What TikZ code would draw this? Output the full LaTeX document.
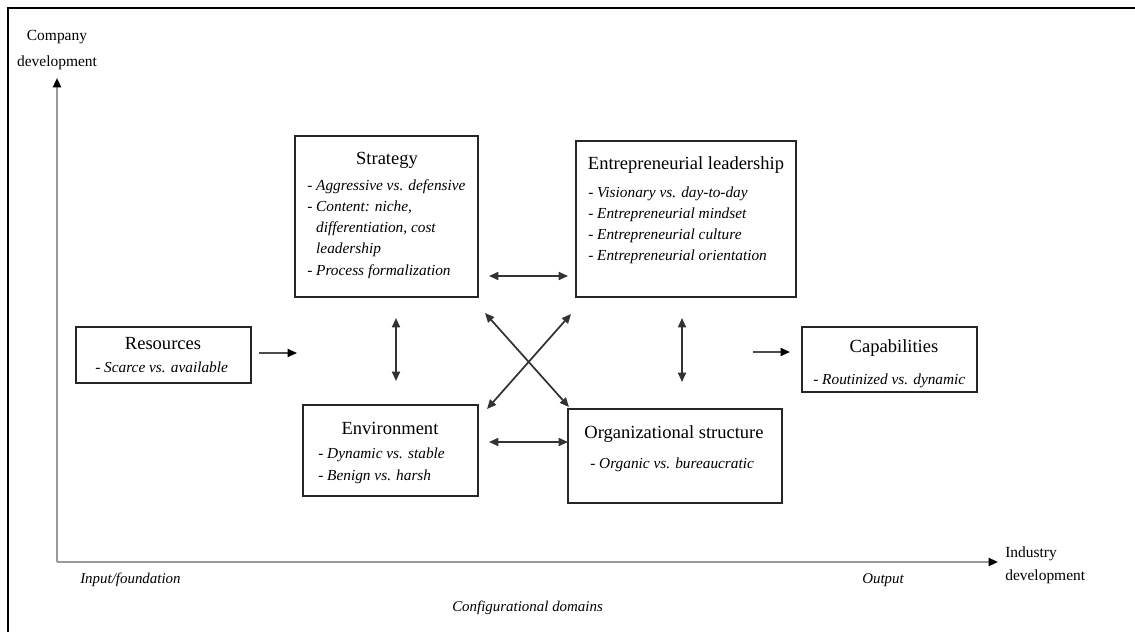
\documentclass[tikz,border=0pt]{standalone}
\usepackage{fontspec}
\setmainfont{Liberation Serif}
\usetikzlibrary{arrows.meta,fit}
\begin{document}
\begin{tikzpicture}[x=0.75pt,y=-0.75pt,
  box/.style={draw=black!85, line width=1.1pt, inner sep=0pt},
  ttl/.style={font=\fontsize{13.9}{16}\selectfont, anchor=base, inner sep=0pt},
  itm/.style={font=\fontsize{11.5}{14}\selectfont\itshape, anchor=base west, inner sep=0pt},
  axlab/.style={font=\fontsize{11.6}{14}\selectfont, inner sep=0pt},
  axit/.style={font=\fontsize{11.2}{14}\selectfont\itshape, anchor=base west, inner sep=0pt},
  link/.style={draw=black!80, line width=1.3pt, {Triangle[length=7pt,width=6pt]}-{Triangle[length=7pt,width=6pt]}},
  flow/.style={draw=black!70, line width=1.3pt, -{Triangle[length=7pt,width=6pt,color=black]}},
  axis/.style={draw=black!40, line width=1.5pt, -{Triangle[length=7pt,width=6pt,color=black]}}
]
\useasboundingbox (0,0) rectangle (1135,632);

% frame along the top and left edges
\draw[line width=2pt] (1135,8) -- (8,8) -- (8,632);

% axes
\coordinate (origin) at (57,562);
\coordinate (ytip) at (57,78);
\coordinate (xtip) at (998,562);
\draw[axis] (origin) -- (ytip);
\draw[axis] (origin) -- (xtip);
\node[axlab, anchor=base] (ylab1) at (57,40) {Company};
\node[axlab, anchor=base] (ylab2) at (57,66) {development};
\node[axlab, anchor=base west] (xlab1) at (1005,557) {Industry};
\node[axlab, anchor=base west] (xlab2) at (1005,580) {development};
\node[axit] (input) at (80,583) {Input/foundation};
\node[axit] (output) at (862,583) {Output};
\node[axit] (domains) at (452,611) {Configurational domains};

% boxes
\node[box, fit={(295,136) (478,297)}] (strategy) {};
\node[box, fit={(576,141) (796,297)}] (leader) {};
\node[box, fit={(76,327) (251,383)}] (resources) {};
\node[box, fit={(303,405) (478,496)}] (environment) {};
\node[box, fit={(568,409) (782,503)}] (structure) {};
\node[box, fit={(802,327) (977,392)}] (capabilities) {};

% titles
\node[ttl] (strategy-t) at (387,164) {Strategy};
\node[ttl] (leader-t) at (686,169) {Entrepreneurial leadership};
\node[ttl] (resources-t) at (163,349) {Resources};
\node[ttl] (environment-t) at (390,434) {Environment};
\node[ttl] (structure-t) at (674,438) {Organizational structure};
\node[ttl] (capabilities-t) at (894,352) {Capabilities};

% item lists
\foreach \t [count=\i] in {- Aggressive vs. defensive, {- Content: niche,},
    {\phantom{- }differentiation, cost}, \phantom{- }leadership, - Process formalization}
  \node[itm] (strategy-\i) at (307,{190+(\i-1)*21.3}) {\t};
\foreach \t [count=\i] in {- Visionary vs. day-to-day, - Entrepreneurial mindset,
    - Entrepreneurial culture, - Entrepreneurial orientation}
  \node[itm] (leader-\i) at (588,{197+(\i-1)*21.3}) {\t};
\node[itm] (resources-1) at (95,372) {- Scarce vs. available};
\foreach \t [count=\i] in {- Dynamic vs. stable, - Benign vs. harsh}
  \node[itm] (environment-\i) at (318,{458+(\i-1)*22}) {\t};
\node[itm] (structure-1) at (590,468) {- Organic vs. bureaucratic};
\node[itm] (capabilities-1) at (813,384) {- Routinized vs. dynamic};

% connector end points
\coordinate (ra) at (259,353);  \coordinate (rb) at (297,353);
\coordinate (ca) at (753,352);  \coordinate (cb) at (790,352);
\coordinate (sea) at (396,318); \coordinate (seb) at (396,381);
\coordinate (loa) at (682,318); \coordinate (lob) at (682,382);
\coordinate (sla) at (489,276); \coordinate (slb) at (568,276);
\coordinate (eoa) at (489,442); \coordinate (eob) at (568,442);
\coordinate (soa) at (485,313); \coordinate (sob) at (569,407);
\coordinate (lea) at (571,314); \coordinate (leb) at (487,409);

% connectors
\draw[flow] (ra) -- (rb);
\draw[flow] (ca) -- (cb);
\draw[link] (sea) -- (seb);
\draw[link] (loa) -- (lob);
\draw[link] (sla) -- (slb);
\draw[link] (eoa) -- (eob);
\draw[link] (soa) -- (sob);
\draw[link] (lea) -- (leb);
\end{tikzpicture}
\end{document}
